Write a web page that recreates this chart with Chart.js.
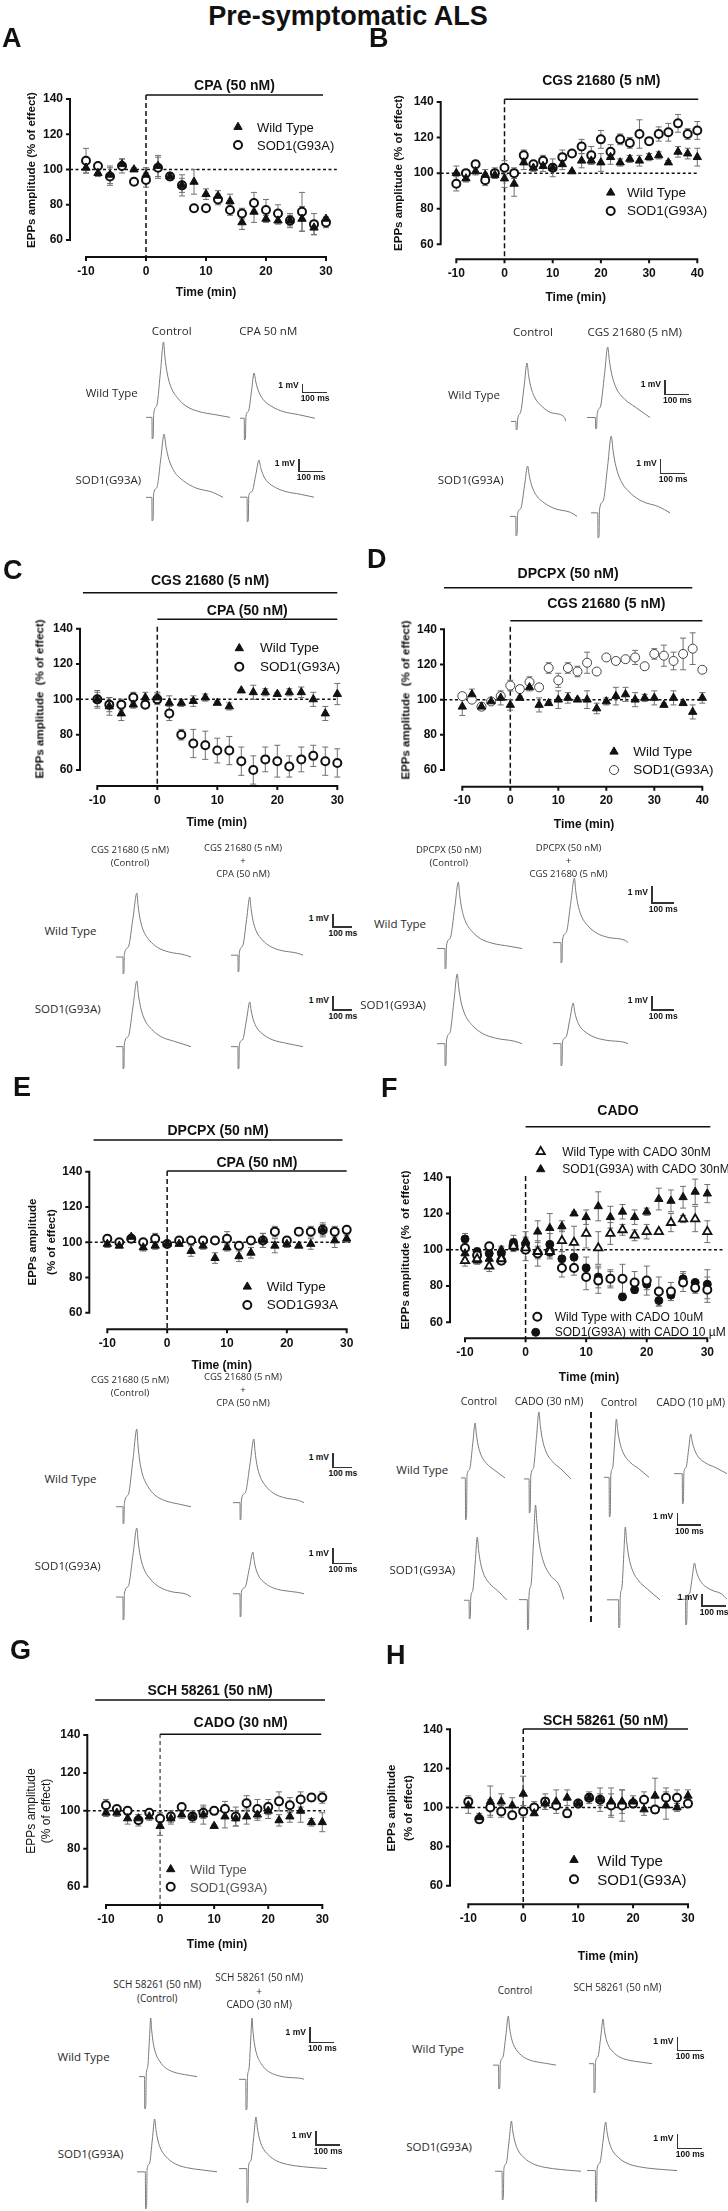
<!DOCTYPE html>
<html>
<head>
<meta charset="utf-8">
<script src="https://cdn.jsdelivr.net/npm/chart.js@4.4.0/dist/chart.umd.min.js"></script>
<style>
  body { margin: 0; background: #fff; }
  #page { position: relative; width: 728px; height: 2211px; overflow: hidden; background: #fff;
          font-family: "Liberation Sans", Arial, sans-serif; color: #111; }
  #page canvas { position: absolute; }
  .t { position: absolute; transform: translate(-50%, -50%); white-space: nowrap; line-height: 1.15; text-align: center; }
  .l { position: absolute; transform: translate(0, -50%); white-space: nowrap; line-height: 1; }
  .tr { font-family: "Open Sans", "Noto Sans", sans-serif; color: #2a2a2a; }
  .bar { position: absolute; background: #333; }
</style>
</head>
<body>
<div id="page"></div>
<script>
// ---- data (minutes, % of effect) ----
const times30 = [-10, -8, -6, -4, -2, 0, 2, 4, 6, 8, 10, 12, 14, 16, 18, 20, 22, 24, 26, 28, 30];
const times40 = [-10, -8, -6, -4, -2, 0, 2, 4, 6, 8, 10, 12, 14, 16, 18, 20, 22, 24, 26, 28, 30, 32, 34, 36, 38, 40];
const yTicks = [60, 80, 100, 120, 140];
const xTicks30 = [-10, 0, 10, 20, 30];
const xTicks40 = [-10, 0, 10, 20, 30, 40];

const wtA = [101, 98, 97, 103, 100, 97, 102, 96, 91, 93, 86, 85, 82, 70, 76, 72, 71, 71, 72, 67, 72];
const wtErrA = [3, 2, 5, 3, 1, 4, 6, 2, 4, 7, 3, 3, 4, 4, 6, 2, 2, 3, 7, 4, 1];
const sodA = [105, 102, 96, 102, 93, 94, 101, 96, 91, 78, 78, 83, 77, 75, 81, 77, 75, 71, 76, 69, 70];
const sodErrA = [7, 1, 5, 4, 1, 4, 6, 2, 6, 2, 1, 3, 3, 3, 6, 6, 5, 4, 11, 6, 3];

const wtB = [100, 97, 101, 99, 99, 97, 94, 106, 103, 104, 103, 105, 101, 107, 107, 106, 109, 106, 108, 107, 109, 110, 106, 112, 111, 109];
const wtErrB = [4, 2, 2, 3, 2, 5, 7, 4, 2, 3, 2, 3, 0.5, 4, 2, 5, 4, 2, 2, 3, 2, 2, 1, 3, 3, 5];
const sodB = [94, 100, 105, 96, 100, 103, 100, 110, 105, 107, 103, 109, 111, 115, 110, 119, 112, 119, 117, 122, 118, 122, 123, 128, 122, 124];
const sodErrB = [4, 1, 2, 3, 3, 4, 3, 3, 2, 3, 5, 4, 1, 4, 5, 5, 4, 3, 3, 8, 2, 4, 5, 5, 3, 5];

const wtC = [100, 96, 92, 97, 101, 101, 98, 98, 99, 101, 98, 96, 105, 104, 104, 103, 104, 104, 100, 92, 103];
const wtErrC = [5, 5, 4, 2, 3, 3, 4, 2, 3, 2, 1, 2, 0.5, 4, 2, 1, 2, 3, 4, 4, 6];
const sodC = [100, 97, 97, 101, 97, 100, 92, 80, 75, 74, 71, 71, 65, 60, 66, 65, 62, 66, 68, 65, 64];
const sodErrC = [4, 4, 3, 3, 2, 3, 4, 3, 8, 8, 7, 8, 8, 8, 7, 9, 6, 7, 6, 8, 8];

const wtD = [96, 103, 96, 99, 101, 97, 101, 107, 97, 98, 100, 101, 100, 100, 95, 99, 102, 103, 100, 101, 101, 97, 101, 98, 93, 101];
const wtErrD = [5, 3, 2, 1, 4, 3, 1, 2, 4, 1, 5, 3, 1, 5, 3, 2, 5, 4, 4, 2, 4, 1, 4, 1, 4, 3];
const sodD = [102, 100, 96, 99, 102, 108, 106, 110, 107, 118, 111, 118, 116, 121, 116, 124, 122, 123, 124, 119, 126, 125, 122, 126, 129, 117];
const sodErrD = [2, 1, 1, 1, 2, 3, 2, 3, 1, 3, 4, 3, 3, 6, 1, 1, 2, 1, 4, 1, 3, 6, 5, 9, 9, 1];

const wtE = [99, 98, 103, 97, 98, 99, 99, 95, 98, 91, 97, 92, 94, 101, 98, 99, 98, 99, 107, 101, 102];
const wtErrE = [2, 1, 1, 2, 2, 1, 1, 3, 2, 3, 2, 3, 3, 4, 4, 2, 1, 3, 3, 4, 2];
const sodE = [102, 100, 102, 100, 102, 99, 101, 101, 101, 101, 102, 98, 101, 101, 106, 101, 106, 106, 107, 106, 107];
const sodErrE = [2, 1, 1, 1, 3, 1, 1, 1, 2, 2, 4, 2, 2, 4, 3, 2, 2, 3, 4, 3, 2];

const wt30F = [94, 95, 91, 95, 102, 101, 99, 99, 105, 104, 109, 101, 109, 111, 108, 110, 110, 115, 117, 117, 110];
const wt30ErrF = [3, 2, 3, 3, 2, 3, 3, 4, 6, 9, 8, 9, 6, 3, 3, 4, 1, 5, 2, 7, 6];
const sod30F = [98, 94, 95, 100, 103, 105, 110, 112, 113, 120, 118, 124, 118, 121, 118, 121, 128, 127, 129, 132, 131];
const sod30ErrF = [3, 2, 3, 2, 3, 5, 6, 8, 3, 1, 4, 8, 6, 4, 4, 2, 6, 6, 6, 7, 5];
const wt10F = [101, 97, 102, 94, 102, 100, 98, 99, 90, 90, 85, 83, 84, 84, 82, 83, 77, 77, 82, 79, 78];
const wt10ErrF = [4, 3, 2, 2, 3, 6, 3, 3, 5, 4, 7, 7, 4, 8, 6, 8, 8, 5, 5, 3, 7];
const sod10F = [106, 99, 98, 98, 104, 103, 98, 103, 95, 96, 90, 85, 84, 74, 78, 81, 72, 75, 84, 82, 81];
const sod10ErrF = [3, 2, 3, 3, 4, 4, 7, 6, 4, 4, 6, 6, 5, 1, 1, 3, 3, 3, 4, 1, 8];

const wtG = [99, 99, 96, 96, 97, 92, 96, 98, 97, 98, 92, 97, 96, 97, 98, 100, 95, 97, 100, 94, 94];
const wtErrG = [2, 2, 3, 2, 2, 5, 3, 2, 2, 5, 0.5, 6, 4, 4, 3, 4, 3, 3, 6, 2, 5];
const sodG = [103, 101, 100, 95, 99, 96, 97, 102, 97, 99, 100, 101, 97, 104, 101, 102, 105, 103, 106, 107, 107];
const sodErrG = [3, 1, 2, 3, 1, 3, 3, 1, 3, 3, 2, 4, 5, 4, 5, 4, 5, 4, 4, 2, 3];

const wtH = [101, 95, 103, 103, 101, 107, 97, 102, 103, 105, 102, 105, 104, 103, 103, 103, 99, 106, 101, 100, 106];
const wtErrH = [4, 2, 8, 4, 4, 9, 1, 3, 6, 4, 1, 3, 6, 7, 6, 3, 3, 9, 7, 2, 3];
const sodH = [103, 94, 100, 98, 96, 98, 100, 103, 101, 97, 102, 105, 104, 101, 101, 102, 104, 99, 105, 105, 102];
const sodErrH = [3, 2, 4, 3, 2, 3, 3, 4, 2, 2, 1, 2, 3, 6, 8, 2, 4, 2, 5, 4, 1];

// EPP traces: [peak mV, stimulus artifact mV, ms before artifact, rise ms, decay ms, length ms]
const tracesA = [[8.7, 2.5, 24, 47, 70, 340], [5.2, 2.5, 17, 40, 90, 304], [5.1, 1.9, 24, 50, 100, 316], [3.0, 2.0, 29, 49, 85, 304]];
const tracesB = [[4.1, 0.6, 20, 45, 75, 223], [4.9, 0.8, 34, 50, 85, 255], [3.6, 1.4, 23, 47, 85, 266], [5.5, 1.8, 27, 54, 95, 316]];
const tracesC = [[4.9, 1.3, 35, 70, 80, 378], [4.5, 1.3, 35, 60, 80, 364], [4.7, 1.6, 35, 70, 95, 378], [3.2, 1.6, 35, 60, 90, 364]];
const tracesD = [[3.9, 1.2, 35, 60, 75, 378], [3.8, 1.2, 35, 60, 75, 333], [5.0, 1.6, 35, 55, 85, 378], [2.9, 1.6, 35, 55, 75, 333]];
const tracesE = [[5.4, 1.2, 35, 70, 70, 378], [4.4, 1.2, 35, 70, 75, 357], [4.5, 1.5, 35, 70, 85, 378], [2.7, 1.5, 35, 65, 75, 357]];
const tracesF = [[4.7, 3.6, 18, 41, 60, 183], [5.7, 2.9, 21, 41, 70, 195], [5.0, 3.4, 21, 30, 70, 185], [3.4, 2.6, 34, 35, 80, 219],
                 [5.4, 1.6, 21, 34, 65, 178], [8.1, 2.6, 34, 34, 75, 185], [6.2, 2.4, 48, 28, 70, 220], [3.1, 2.2, 35, 37, 85, 206]];
const tracesG = [[3.8, 2.1, 22, 25, 45, 232], [4.0, 2.0, 27, 25, 45, 260], [3.7, 2.6, 34, 38, 65, 326], [3.6, 2.4, 32, 38, 65, 362]];
const tracesH = [[3.5, 1.7, 22, 39, 50, 250], [3.2, 2.1, 19, 37, 50, 250], [3.5, 2.0, 28, 37, 65, 340], [3.4, 2.2, 33, 41, 65, 356]];

const riseShape = [[0.3, 0.15], [0.7, 0.62], [1, 1]];
const decayShape = [[0.08, 0.8], [0.2, 0.6], [0.4, 0.42], [0.8, 0.26], [1.3, 0.15], [2, 0.08], [3, 0.035], [4.5, 0.01]];

const page = document.getElementById('page');
const FONT = '"Liberation Sans", Arial, sans-serif';

function addText(html, x, y, css, cls) {
  const d = document.createElement('div');
  d.className = cls || 't';
  d.innerHTML = html;
  d.style.left = x + 'px';
  d.style.top = y + 'px';
  Object.assign(d.style, css || {});
  page.appendChild(d);
  return d;
}

function addCanvas(left, top, w, h) {
  const c = document.createElement('canvas');
  c.width = Math.round(w);
  c.height = Math.round(h);
  c.style.left = left + 'px';
  c.style.top = top + 'px';
  page.appendChild(c);
  return c;
}

const markStyles = {
  tri: { pointStyle: 'triangle', radius: 4.8, bg: '#111', border: '#111', bw: 1 },
  triO: { pointStyle: 'triangle', radius: 4.8, bg: '#fff', border: '#111', bw: 1.8 },
  circ: { pointStyle: 'circle', radius: 4, bg: '#fff', border: '#111', bw: 2 },
  circThin: { pointStyle: 'circle', radius: 4.5, bg: '#fff', border: '#444', bw: 1 },
  dot: { pointStyle: 'circle', radius: 4, bg: '#111', border: '#111', bw: 1 }
};

const panels = [
  { letter: 'A', lx: 2, ly: 43, col: 0, ax: 70, p0: 86, p1: 326, y140: 99, y60: 240, xa: 257, xt: xTicks30,
    series: [['Wild Type', times30, wtA, wtErrA, 'tri'], ['SOD1(G93A)', times30, sodA, sodErrA, 'circ']],
    bars: [{ text: 'CPA (50 nM)', x0: 0, x1: 29.5, y: 95, ty: 85 }], dashTop: 95, refEnd: 31.8,
    legend: [[0, 238, 127, 257], [1, 238, 145, 257]], legendSize: 13,
    yTitle: ['EPPs amplitude (% of effect)'], yTitleX: [32], yBold: true, xTitle: [206, 293] },
  { letter: 'B', lx: 369, ly: 43, col: 364, ax: 440.7, p0: 456.3, p1: 697.3, y140: 102, y60: 244.3, xa: 259.3, xt: xTicks40,
    series: [['Wild Type', times40, wtB, wtErrB, 'tri'], ['SOD1(G93A)', times40, sodB, sodErrB, 'circ']],
    bars: [{ text: 'CGS 21680 (5 nM)', x0: 0, x1: 40.2, y: 99.3, ty: 80 }], dashTop: 99.3, refEnd: 40.2,
    legend: [[0, 610.7, 192.7, 627], [1, 610.7, 211, 627]], legendSize: 13.5,
    yTitle: ['EPPs amplitude (% of effect)'], yTitleX: [399], yBold: true, xTitle: [575.7, 297.7] },
  { letter: 'C', lx: 3, ly: 575, col: 0, ax: 80, p0: 97.3, p1: 337.3, y140: 628.7, y60: 770, xa: 786, xt: xTicks30,
    series: [['Wild Type', times30, wtC, wtErrC, 'tri'], ['SOD1(G93A)', times30, sodC, sodErrC, 'circ']],
    bars: [{ text: 'CGS 21680 (5 nM)', x0: -12.4, x1: 30, y: 592.7, ty: 580 }, { text: 'CPA (50 nM)', x0: 0, x1: 30, y: 619.3, ty: 610 }],
    dashTop: 626.7, refEnd: 30,
    legend: [[0, 239.3, 648.3, 260], [1, 239.3, 666.7, 260]], legendSize: 13.5,
    yTitle: ['EPPs amplitude&nbsp; (% of effect)'], yTitleX: [40], yBold: true, xTitle: [216.7, 823] },
  { letter: 'D', lx: 367, ly: 564, col: 364, ax: 444, p0: 462.3, p1: 702.3, y140: 629.3, y60: 770, xa: 786.7, xt: xTicks40,
    series: [['Wild Type', times40, wtD, wtErrD, 'tri'], ['SOD1(G93A)', times40, sodD, sodErrD, 'circThin']],
    bars: [{ text: 'DPCPX (50 nM)', x0: -13.8, x1: 37.9, y: 587.7, ty: 573.3 }, { text: 'CGS 21680 (5 nM)', x0: 0, x1: 40, y: 620.7, ty: 603.3 }],
    dashTop: 626.7, refEnd: 40.3,
    legend: [[0, 614, 751.7, 633.3], [1, 614, 770, 633.3]], legendSize: 13.5,
    yTitle: ['EPPs amplitude&nbsp; (% of effect)'], yTitleX: [405.7], yBold: true, xTitle: [584, 825] },
  { letter: 'E', lx: 13, ly: 1092, col: 0, ax: 89.3, p0: 107.3, p1: 346.7, y140: 1171.7, y60: 1312.7, xa: 1329.3, xt: xTicks30,
    series: [['Wild Type', times30, wtE, wtErrE, 'tri'], ['SOD1G93A', times30, sodE, sodErrE, 'circ']],
    bars: [{ text: 'DPCPX (50 nM)', x0: -12.3, x1: 29.3, y: 1140, ty: 1130 }, { text: 'CPA (50 nM)', x0: 0, x1: 30, y: 1171, ty: 1161.7 }],
    dashTop: 1171, refEnd: 30.6,
    legend: [[0, 247.3, 1286.7, 266.7], [1, 247.3, 1305, 266.7]], legendSize: 13.5,
    yTitle: ['EPPs amplitude', '(% of effect)'], yTitleX: [33.3, 51.7], yBold: true, xTitle: [221.7, 1366] },
  { letter: 'F', lx: 381, ly: 1093, col: 364, ax: 450, p0: 465, p1: 707.3, y140: 1177.3, y60: 1322.3, xa: 1338.3, xt: xTicks30,
    series: [['Wild Type with CADO 30nM', times30, wt30F, wt30ErrF, 'triO'], ['SOD1(G93A) with CADO 30nM', times30, sod30F, sod30ErrF, 'tri'],
             ['Wild Type with CADO 10uM', times30, wt10F, wt10ErrF, 'circ'], ['SOD1(G93A) with CADO 10 &micro;M', times30, sod10F, sod10ErrF, 'dot']],
    bars: [{ text: 'CADO', x0: 0, x1: 30.5, y: 1126.7, ty: 1110 }], dashTop: 1176, refEnd: 32.7,
    legend: [[0, 540.7, 1151.7, 562.3], [1, 540.7, 1169.3, 562.3], [2, 537.3, 1316.7, 554.7], [3, 535.7, 1332.3, 554.7]], legendSize: 12,
    yTitle: ['EPPs amplitude (% &nbsp;of effect)'], yTitleX: [405.7], yBold: true, xTitle: [589, 1378.3] },
  { letter: 'G', lx: 10, ly: 1655, col: 0, ax: 87.3, p0: 106, p1: 322.3, y140: 1735, y60: 1886.7, xa: 1905, xt: xTicks30,
    series: [['Wild Type', times30, wtG, wtErrG, 'tri'], ['SOD1(G93A)', times30, sodG, sodErrG, 'circ']],
    bars: [{ text: 'SCH 58261 (50 nM)', x0: -12, x1: 30.5, y: 1700, ty: 1690 }, { text: 'CADO (30 nM)', x0: 0, x1: 29.8, y: 1734.3, ty: 1721.7 }],
    dashTop: 1734, refEnd: 30.5, thinDash: true,
    legend: [[0, 170.7, 1869.3, 190], [1, 170.7, 1886.7, 190]], legendSize: 13, legendColor: '#555',
    yTitle: ['EPPs amplitude', '(% of effect)'], yTitleX: [31.7, 46.7], yBold: false, xTitle: [217, 1945] },
  { letter: 'H', lx: 386, ly: 1660, col: 364, ax: 450, p0: 468.3, p1: 688, y140: 1729.3, y60: 1885.7, xa: 1904.3, xt: xTicks30,
    series: [['Wild Type', times30, wtH, wtErrH, 'tri'], ['SOD1(G93A)', times30, sodH, sodErrH, 'circ']],
    bars: [{ text: 'SCH 58261 (50 nM)', x0: 0, x1: 30, y: 1729, ty: 1720 }], dashTop: 1729, refEnd: 30,
    legend: [[0, 574, 1860, 597.3], [1, 574, 1879.3, 597.3]], legendSize: 15,
    yTitle: ['EPPs amplitude', '(% of effect)'], yTitleX: [392.3, 409], yBold: true, xTitle: [608, 1956.7] }
];

// trace blocks: rows give the scale (px per mV, px per ms) and the scale bar foot
const traceBlocks = [
  { traces: tracesA, perRow: 2, rows: [{ ppmv: 8.7, ppms: 0.247, bar: [302.7, 392.7] }, { ppmv: 12.4, ppms: 0.243, bar: [299, 471.7] }],
    pos: [[145.7, 417.3], [240, 418], [145.7, 497.7], [240, 496.7]],
    heads: [['Control', 171.7, 330.7], ['CPA 50 nM', 268.3, 330.7]], small: 11.5,
    side: [['Wild Type', 111.7, 393.3], ['SOD1(G93A)', 108.3, 480]] },
  { traces: tracesB, perRow: 2, rows: [{ ppmv: 14.3, ppms: 0.247, bar: [665, 394.3] }, { ppmv: 14, ppms: 0.25, bar: [660.7, 473.3] }],
    pos: [[510.7, 421.7], [587.3, 417.3], [510, 516.7], [590.7, 513.3]],
    heads: [['Control', 533, 332.3], ['CGS 21680 (5 nM)', 634.7, 332.3]], small: 11.5,
    side: [['Wild Type', 474, 395], ['SOD1(G93A)', 470.7, 480]] },
  { traces: tracesC, perRow: 2, rows: [{ ppmv: 13, ppms: 0.198, bar: [333, 927] }, { ppmv: 14, ppms: 0.198, bar: [333, 1010] }],
    pos: [[115.7, 956.7], [231.4, 955.3], [115.7, 1047], [231.4, 1047]],
    heads: [['CGS 21680 (5 nM)<br>(Control)', 130, 857], ['CGS 21680 (5 nM)<br>+<br>CPA (50 nM)', 243, 861]], small: 9.5,
    side: [['Wild Type', 70.5, 931], ['SOD1(G93A)', 67.7, 1009]] },
  { traces: tracesD, perRow: 2, rows: [{ ppmv: 17, ppms: 0.225, bar: [652, 903] }, { ppmv: 14, ppms: 0.225, bar: [652, 1010] }],
    pos: [[437, 948], [553, 942.5], [437, 1044], [553, 1044]],
    heads: [['DPCPX (50 nM)<br>(Control)', 448.7, 857], ['DPCPX (50 nM)<br>+<br>CGS 21680 (5 nM)', 568.6, 861]], small: 9.5,
    side: [['Wild Type', 400, 924], ['SOD1(G93A)', 393, 1004.6]] },
  { traces: tracesE, perRow: 2, rows: [{ ppmv: 14.4, ppms: 0.198, bar: [333, 1467.4] }, { ppmv: 15.4, ppms: 0.198, bar: [333, 1563.4] }],
    pos: [[115.7, 1507], [232.8, 1502.7], [115.7, 1597], [232.8, 1594]],
    heads: [['CGS 21680 (5 nM)<br>(Control)', 130, 1387], ['CGS 21680 (5 nM)<br>+<br>CPA (50 nM)', 243, 1390]], small: 9.5,
    side: [['Wild Type', 70.5, 1478.7], ['SOD1(G93A)', 67.7, 1566]] },
  { traces: tracesF, perRow: 4, rows: [{ ppmv: 11.7, ppms: 0.243, bar: [677.3, 1525] }, { ppmv: 11.7, ppms: 0.243, bar: [702, 1606] }],
    pos: [[461.3, 1478.3], [524, 1478.3], [604, 1477.3], [674, 1474], [464, 1600], [519, 1600], [607.3, 1599.3], [677.3, 1599.3]],
    heads: [['Control', 479, 1400.7], ['CADO (30 nM)', 549, 1400.7], ['Control', 619, 1401.7], ['CADO (10 &micro;M)', 690.7, 1401.7]], small: 10.5,
    side: [['Wild Type', 422.3, 1470], ['SOD1(G93A)', 422.3, 1570]] },
  { traces: tracesG, perRow: 2, rows: [{ ppmv: 15.4, ppms: 0.249, bar: [309.9, 2042.7] }, { ppmv: 14.3, ppms: 0.244, bar: [316, 2145] }],
    pos: [[138.5, 2076.7], [239.4, 2079.3], [137.1, 2171.7], [238.5, 2168.3]],
    heads: [['SCH 58261 (50 nM)<br>(Control)', 157.3, 1991.3], ['SCH 58261 (50 nM)<br>+<br>CADO (30 nM)', 259.2, 1991]], small: 10,
    side: [['Wild Type', 83.6, 2057.3], ['SOD1(G93A)', 90.6, 2154.3]] },
  { traces: tracesH, perRow: 2, rows: [{ ppmv: 14, ppms: 0.253, bar: [677.5, 2050.7] }, { ppmv: 14.3, ppms: 0.253, bar: [677.5, 2148.3] }],
    pos: [[493, 2065.3], [589.2, 2064], [495.3, 2170.7], [586.9, 2170.7]],
    heads: [['Control', 515, 1991], ['SCH 58261 (50 nM)', 617.4, 1987.7]], small: 10,
    side: [['Wild Type', 438, 2049.3], ['SOD1(G93A)', 439, 2146.7]] }
];

function makeDecor(p, offLeft, offTop) {
  return {
    id: 'decor' + p.letter,
    beforeDatasetsDraw(chart) {
      const { ctx, chartArea } = chart;
      const xs = chart.scales.x, ys = chart.scales.y;
      const X = v => xs.getPixelForValue(v), Y = v => ys.getPixelForValue(v);
      const cy = v => v - offTop;
      ctx.save();
      ctx.strokeStyle = '#111';
      ctx.lineWidth = 2;
      // offset axes, GraphPad style
      ctx.beginPath();
      ctx.moveTo(chartArea.left, Y(60) + 1);
      ctx.lineTo(chartArea.left, Y(140) - 1);
      yTicks.forEach(v => { ctx.moveTo(chartArea.left - 4, Y(v)); ctx.lineTo(chartArea.left, Y(v)); });
      const xb = chartArea.bottom;
      ctx.moveTo(X(p.xt[0]) - 1, xb);
      ctx.lineTo(X(p.xt[p.xt.length - 1]) + 1, xb);
      p.xt.forEach(v => { ctx.moveTo(X(v), xb); ctx.lineTo(X(v), xb + 4); });
      ctx.stroke();
      // drug application bars
      ctx.lineWidth = 1.5;
      ctx.beginPath();
      p.bars.forEach(b => { ctx.moveTo(X(b.x0), cy(b.y)); ctx.lineTo(X(b.x1), cy(b.y)); });
      ctx.stroke();
      // 100 % reference and application time
      ctx.setLineDash([3, 2.5]);
      ctx.beginPath();
      ctx.moveTo(chartArea.left, Y(100));
      ctx.lineTo(X(p.refEnd), Y(100));
      ctx.stroke();
      ctx.setLineDash(p.thinDash ? [4, 3] : [5, 3]);
      ctx.lineWidth = p.thinDash ? 1 : 1.5;
      ctx.beginPath();
      ctx.moveTo(X(0), cy(p.dashTop));
      ctx.lineTo(X(0), xb);
      ctx.stroke();
      ctx.setLineDash([]);
      // error bars (SEM)
      ctx.strokeStyle = '#707070';
      ctx.lineWidth = 1;
      p.series.forEach(s => {
        const [, t, v, e] = s;
        ctx.beginPath();
        t.forEach((tt, i) => {
          const px = X(tt), hi = Y(v[i] + e[i]), lo = Y(v[i] - e[i]);
          ctx.moveTo(px, hi); ctx.lineTo(px, lo);
          ctx.moveTo(px - 3, hi); ctx.lineTo(px + 3, hi);
          ctx.moveTo(px - 3, lo); ctx.lineTo(px + 3, lo);
        });
        ctx.stroke();
      });
      ctx.restore();
    },
    afterDatasetsDraw(chart) {
      const { ctx } = chart;
      ctx.save();
      p.legend.forEach(([si, mx, my]) => {
        const st = markStyles[p.series[si][4]];
        ctx.fillStyle = st.bg;
        ctx.strokeStyle = st.border;
        ctx.lineWidth = st.bw;
        Chart.helpers.drawPoint(ctx, { pointStyle: st.pointStyle, radius: st.radius, borderWidth: st.bw, rotation: 0 }, mx - offLeft, my - offTop);
      });
      ctx.restore();
    }
  };
}

function buildPanel(p) {
  const last = p.xt[p.xt.length - 1];
  const ppx = (p.p1 - p.p0) / (last - p.xt[0]);
  const ppy = (p.y60 - p.y140) / 80;
  const xMin = p.xt[0] - (p.p0 - p.ax) / ppx;
  const yMin = 60 - (p.xa - p.y60) / ppy;
  const top = Math.round(p.y140 - 95);
  const padTop = p.y140 - top;
  const h = Math.round(p.xa - top + 60);
  const canvas = addCanvas(p.col, top, 364, h);
  const tickFont = { family: FONT, size: 12, weight: 'bold' };

  new Chart(canvas, {
    type: 'scatter',
    data: {
      datasets: p.series.map(([label, t, v, , style]) => {
        const st = markStyles[style];
        return {
          label,
          data: t.map((tt, i) => ({ x: tt, y: v[i] })),
          pointStyle: st.pointStyle,
          pointRadius: st.radius,
          pointBackgroundColor: st.bg,
          pointBorderColor: st.border,
          pointBorderWidth: st.bw,
          showLine: false,
          clip: false
        };
      })
    },
    options: {
      responsive: false,
      animation: false,
      devicePixelRatio: 1,
      layout: { padding: { top: padTop, right: p.col + 364 - p.p1, left: 0, bottom: 0 } },
      plugins: { legend: { display: false }, tooltip: { enabled: false } },
      scales: {
        x: {
          type: 'linear', min: xMin, max: last,
          grid: { display: false, drawTicks: false }, border: { display: false },
          ticks: { font: tickFont, color: '#111', padding: 7, autoSkip: false, maxRotation: 0 },
          afterBuildTicks: s => { s.ticks = p.xt.map(v => ({ value: v })); },
          afterFit: s => { s.height = h - (p.xa - top); }
        },
        y: {
          type: 'linear', min: yMin, max: 140,
          grid: { display: false, drawTicks: false }, border: { display: false },
          ticks: { font: tickFont, color: '#111', padding: 7, autoSkip: false },
          afterBuildTicks: s => { s.ticks = yTicks.map(v => ({ value: v })); },
          afterFit: s => { s.width = p.ax - p.col; }
        }
      }
    },
    plugins: [makeDecor(p, p.col, top)]
  });

  // texts around the plot
  addText(p.letter, p.lx, p.ly - 5, { fontSize: '27px', fontWeight: 'bold', lineHeight: '1' }, 'l');
  const px = v => p.p0 + (v - p.xt[0]) * ppx;
  p.bars.forEach(b => addText(b.text, (px(b.x0) + px(b.x1)) / 2, b.ty, { fontSize: '14px', fontWeight: 'bold' }));
  p.legend.forEach(([si, , my, tx]) => addText(p.series[si][0], tx, my,
    { fontSize: p.legendSize + 'px', color: p.legendColor || '#111' }, 'l'));
  const yc = (p.y140 + p.y60) / 2;
  p.yTitle.forEach((line, i) => addText(line, p.yTitleX[i], yc, {
    fontSize: p.yBold ? '11.5px' : '12px', fontWeight: p.yBold ? 'bold' : 'normal',
    transform: 'translate(-50%, -50%) rotate(-90deg)'
  }));
  addText('Time (min)', p.xTitle[0], p.xTitle[1], { fontSize: '12px', fontWeight: 'bold' });
}

function tracePoints([amp, art, pre, rise, decay, len]) {
  const pts = [[0, 0], [pre, 0], [pre + 1, -art], [pre + 5, -art * 0.92], [pre + 7, 0.04 * amp]];
  const r0 = pre + 7, tPeak = pre + rise;
  riseShape.forEach(([f, v]) => pts.push([r0 + f * (tPeak - r0), v * amp]));
  decayShape.forEach(([f, v]) => { const tt = tPeak + f * decay; if (tt < len - 4) pts.push([tt, v * amp]); });
  pts.push([len, 0]);
  return pts.map(([x, y]) => ({ x, y }));
}

function buildTraces(b) {
  b.traces.forEach((tr, i) => {
    const row = b.rows[Math.floor(i / b.perRow)];
    const [amp, art, , , , len] = tr;
    const [x, base] = b.pos[i];
    const left = x - 2, top = base - amp * row.ppmv - 3;
    const w = len * row.ppms + 4, h = (amp + art) * row.ppmv + 6;
    const canvas = addCanvas(left, top, w, h);
    new Chart(canvas, {
      type: 'line',
      data: { datasets: [{ data: tracePoints(tr), borderColor: '#7a7a7a', borderWidth: 1, pointRadius: 0,
                           cubicInterpolationMode: 'monotone', fill: false }] },
      options: {
        responsive: false, animation: false, devicePixelRatio: 1,
        layout: { padding: { left: 2, right: 2, top: 3, bottom: 3 } },
        plugins: { legend: { display: false }, tooltip: { enabled: false } },
        scales: {
          x: { type: 'linear', display: false, min: 0, max: len },
          y: { type: 'linear', display: false, min: -art, max: amp }
        }
      }
    });
  });
  // scale bars: 1 mV by 100 ms
  b.rows.forEach(row => {
    const [bx, by] = row.bar;
    const hgt = row.ppmv, wid = 100 * row.ppms;
    const v = document.createElement('div');
    v.className = 'bar';
    Object.assign(v.style, { left: (bx - 0.75) + 'px', top: (by - hgt) + 'px', width: '1.5px', height: hgt + 'px' });
    page.appendChild(v);
    const hz = document.createElement('div');
    hz.className = 'bar';
    Object.assign(hz.style, { left: (bx - 0.75) + 'px', top: (by - 0.75) + 'px', width: wid + 'px', height: '1.5px' });
    page.appendChild(hz);
    addText('1 mV', bx - 4, by - hgt / 2 - 2, { fontSize: '8.5px', fontWeight: 'bold', transform: 'translate(-100%, -50%)' });
    addText('100 ms', bx + wid / 2, by + 6.5, { fontSize: '8.5px', fontWeight: 'bold' });
  });
  b.heads.forEach(([txt, x, y]) => addText(txt, x, y, { fontSize: b.small + 'px', lineHeight: '1.35' }, 't tr'));
  b.side.forEach(([txt, x, y]) => addText(txt, x, y, { fontSize: '11.5px' }, 't tr'));
}

addText('Pre-symptomatic ALS', 348, 17, { fontSize: '27px', fontWeight: 'bold' });
panels.forEach(buildPanel);
traceBlocks.forEach(buildTraces);

// dashed separator between the two CADO concentrations in F
const sep = document.createElement('div');
Object.assign(sep.style, { position: 'absolute', left: '590px', top: '1412px', height: '210px', borderLeft: '2px dashed #222' });
page.appendChild(sep);
</script>
</body>
</html>
